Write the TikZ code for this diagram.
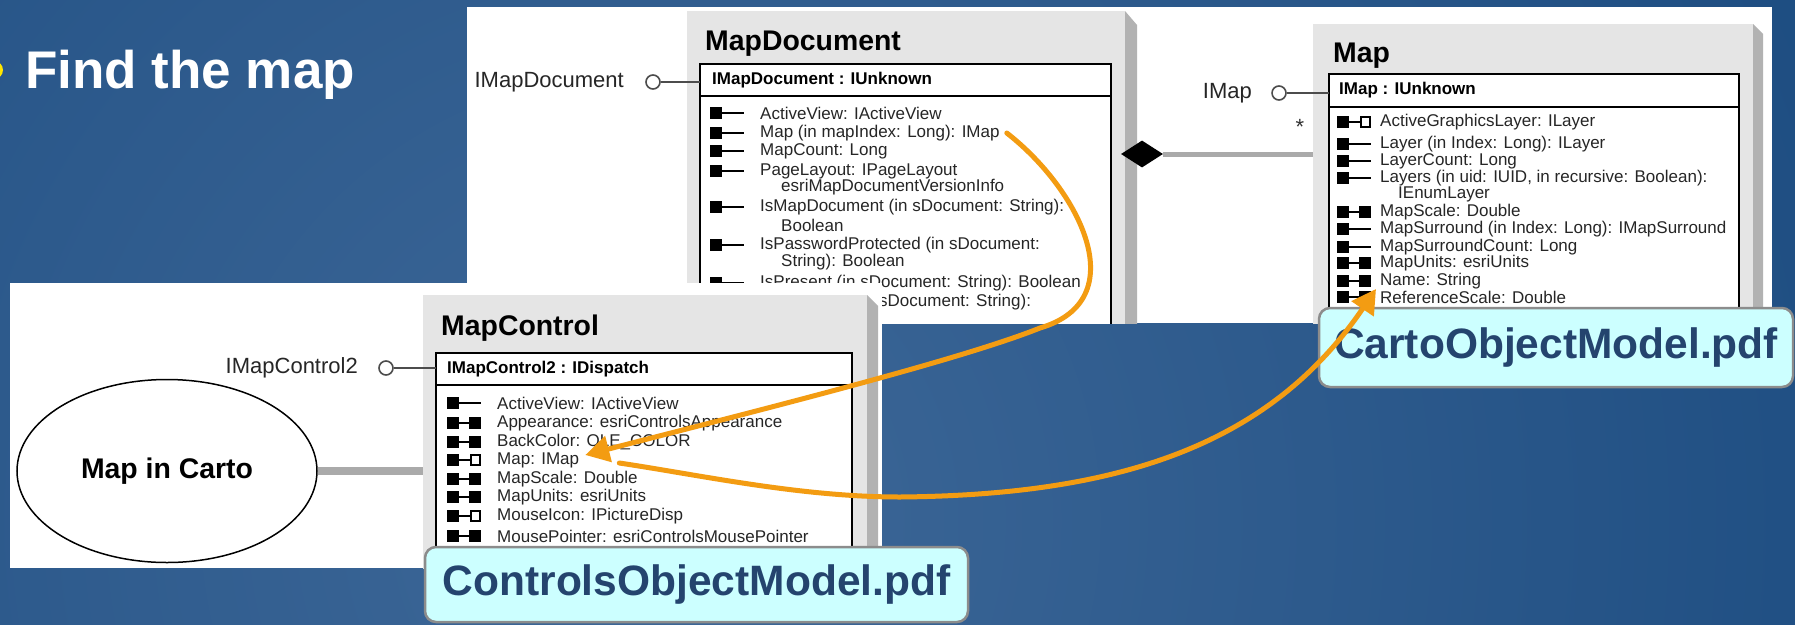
\documentclass[tikz,border=0pt]{standalone}
\usepackage{fontspec}
\setmainfont{Liberation Sans}
\usetikzlibrary{arrows.meta,positioning,shapes.geometric}
\definecolor{slideblue}{RGB}{16,66,120}
\definecolor{slidelight}{RGB}{62,104,152}
\definecolor{bulletyellow}{RGB}{255,230,0}
\definecolor{classgray}{RGB}{229,229,229}
\definecolor{shadowgray}{RGB}{178,178,178}
\definecolor{linkgray}{RGB}{170,170,170}
\definecolor{hintorange}{RGB}{243,156,18}
\definecolor{notefill}{RGB}{204,255,255}
\definecolor{notetext}{RGB}{36,68,110}
\definecolor{noteline}{RGB}{140,140,140}
\tikzset{
  member/.style={anchor=west, inner sep=0pt, text=black!85, font=\fontsize{17}{19}\selectfont},
  header/.style={anchor=west, inner sep=0pt, font=\bfseries\fontsize{17}{19}\selectfont},
  classname/.style={anchor=base west, inner sep=0pt, font=\bfseries\fontsize{28.4}{32}\selectfont},
  iface/.style={anchor=east, inner sep=0pt, text=black!85, font=\fontsize{22}{26}\selectfont},
  lolli/.style={circle, draw=black!70, line width=1.6pt, fill=white, minimum size=14pt, inner sep=0pt},
  ifline/.style={draw=black!70, line width=1.5pt},
  body/.style={draw=black, line width=1.8pt, fill=white},
  hdrbox/.style={draw=black, line width=1.8pt, fill=white, inner sep=0pt, outer sep=0pt, anchor=north west},
  assoc/.style={draw=linkgray, line width=5pt},
  note/.style={draw=noteline, line width=2.5pt, fill=notefill, rounded corners=11pt, inner sep=0pt, text=notetext, font=\bfseries\fontsize{42.5}{48}\selectfont},
  hint/.style={draw=hintorange, line width=5pt, line cap=round, -{Triangle[length=24pt,width=26pt]}},
  propget/.pic={\fill (0,-6) rectangle (12,6); \draw[line width=1.6pt] (12,0) -- (34,0);},
  propput/.pic={\fill (0,-6) rectangle (12,6); \draw[line width=1.6pt] (12,0) -- (22,0); \fill (22,-6) rectangle (34,6);},
  propref/.pic={\fill (0,-6) rectangle (12,6); \draw[line width=1.6pt] (12,0) -- (23,0); \draw[line width=1.6pt, fill=white] (23.8,-5.2) rectangle (33.2,5.2);}
}
\begin{document}
\begin{tikzpicture}[x=1pt, y=-1pt]
  \useasboundingbox (0,0) rectangle (1795,624);
  \begin{scope}
    \clip (0,0) rectangle (1795,624);
    \shade[inner color=slidelight, outer color=slideblue] (-1150,-1280) rectangle (2450,2320);
  \end{scope}
  \node[circle, fill=bulletyellow, minimum size=18pt, inner sep=0pt] (dot) at (-6,70) {};
  \node[anchor=base west, inner sep=0pt, text=white, font=\bfseries\fontsize{53}{60}\selectfont] (title) at (25,88) {Find the map};

  \fill[white] (467,7) rectangle (1772,323);
  \begin{scope}
    \clip (467,7) rectangle (1772,323);
    \fill[classgray] (687,11) rectangle (1125,330);
    \fill[shadowgray] (1125,11) -- (1137,25) -- (1137,330) -- (1125,330) -- cycle;
    \draw[body] (700,64) rectangle (1111,340);
    \node[hdrbox, minimum width=411pt, minimum height=32pt] (mdHdr) at (700,64) {};
    \node[classname] (mdName) at (705,50) {MapDocument};
    \node[header] (mdHead) at (712,80) {IMapDocument : IUnknown};
    \foreach \k/\y/\t [count=\i] in {
      propget/113/{ActiveView: IActiveView},
      propget/133/{Map (in mapIndex: Long): IMap},
      propget/151/{MapCount: Long},
      propget/171/{PageLayout: IPageLayout},
      propget/207/{IsMapDocument (in sDocument: String):},
      propget/245/{IsPasswordProtected (in sDocument:},
      propget/283/{IsPresent (in sDocument: String): Boolean}}{
      \pic at (710,\y) {\k};
      \node[member] (md\i) at (760,\y) {\t};
    }
    \node[member] (mdMore1) at (781,187) {esriMapDocumentVersionInfo};
    \node[member] (mdMore2) at (781,225) {Boolean};
    \node[member] (mdMore3) at (781,262) {String): Boolean};
    \node[member] (mdMore4) at (879,302) {sDocument: String):};
    \node[iface] (mdLabel) at (624,82) {IMapDocument};
    \node[lolli] (mdIf) at (653,82) {};
    \draw[ifline] (mdIf) -- (mdIf -| mdHdr.west);

    \fill[classgray] (1313,24) rectangle (1753,330);
    \fill[shadowgray] (1753,24) -- (1763,34) -- (1763,330) -- (1753,330) -- cycle;
    \draw[body] (1329,74) rectangle (1739,340);
    \node[hdrbox, minimum width=410pt, minimum height=33pt] (mpHdr) at (1329,74) {};
    \node[classname] (mpName) at (1333,62) {Map};
    \node[header] (mpHead) at (1339,90) {IMap : IUnknown};
    \foreach \k/\y/\t [count=\i] in {
      propref/122/{ActiveGraphicsLayer: ILayer},
      propget/144/{Layer (in Index: Long): ILayer},
      propget/161/{LayerCount: Long},
      propget/178/{Layers (in uid: IUID, in recursive: Boolean):},
      propput/212/{MapScale: Double},
      propget/229/{MapSurround (in Index: Long): IMapSurround},
      propget/247/{MapSurroundCount: Long},
      propput/263/{MapUnits: esriUnits},
      propput/281/{Name: String},
      propput/297/{ReferenceScale: Double}}{
      \pic at (1337,\y) {\k};
      \node[member] (mp\i) at (1380,\y) {\t};
    }
    \node[member] (mpMore) at (1398,194) {IEnumLayer};
    \node[iface] (mpLabel) at (1252,93) {IMap};
    \node[lolli] (mpIf) at (1279,93) {};
    \draw[ifline] (mpIf) -- (mpIf -| mpHdr.west);

    \coordinate (mpEdge) at (1313,154);
    \node[diamond, aspect=1.6, fill=black, minimum width=42pt, minimum height=27pt, inner sep=0pt] (own) at (1142,154) {};
    \draw[assoc] (own.east) -- (mpEdge);
    \node[font=\fontsize{22}{24}\selectfont, text=black!80] (many) at (1300,127) {*};
  \end{scope}

  \fill[white] (10,283) rectangle (882,568);
  \begin{scope}
    \clip (10,283) rectangle (882,568);
    \fill[classgray] (423,295) rectangle (867,580);
    \fill[shadowgray] (867,295) -- (878,306) -- (878,580) -- (867,580) -- cycle;
    \draw[body] (436,353) rectangle (852,600);
    \node[hdrbox, minimum width=416pt, minimum height=32pt] (mcHdr) at (436,353) {};
    \node[classname] (mcName) at (441,335) {MapControl};
    \node[header] (mcHead) at (447,369) {IMapControl2 : IDispatch};
    \foreach \k/\y/\t [count=\i] in {
      propget/403/{ActiveView: IActiveView},
      propput/423/{Appearance: esriControlsAppearance},
      propput/442/{BackColor: OLE\_COLOR},
      propref/460/{Map: IMap},
      propput/479/{MapScale: Double},
      propput/497/{MapUnits: esriUnits},
      propref/516/{MouseIcon: IPictureDisp},
      propput/536/{MousePointer: esriControlsMousePointer}}{
      \pic at (447,\y) {\k};
      \node[member] (mc\i) at (497,\y) {\t};
    }
    \node[iface] (mcLabel) at (358,368) {IMapControl2};
    \node[lolli] (mcIf) at (386,368) {};
    \draw[ifline] (mcIf) -- (mcIf -| mcHdr.west);

    \node[ellipse, draw, line width=1.5pt, fill=white, minimum width=300pt, minimum height=183pt, inner sep=0pt, font=\bfseries\fontsize{28.4}{32}\selectfont] (carto) at (167,471) {Map in Carto};
    \coordinate (mcEdge) at (423,472);
    \draw[assoc, line width=8pt] (carto.east) -- (carto.east -| mcEdge);
  \end{scope}

  \node[note, minimum width=474pt, minimum height=79pt] (cartoPdf) at (1556,347.5) {CartoObjectModel.pdf};
  \node[note, minimum width=543pt, minimum height=75pt] (ctrlPdf) at (696.5,584.5) {ControlsObjectModel.pdf};

  \draw[hint] ([xshift=7pt]md2.east) .. controls (1080,190) and (1135,300) .. (1040,328)
    .. controls (960,360) and (760,410) .. ([xshift=6pt,yshift=5pt]mc4.east);
  \draw[hint] ([xshift=40pt,yshift=-3pt]mc4.east) .. controls (700,475) and (800,497) .. (900,497)
    .. controls (1120,495) and (1270,445) .. ([xshift=-4pt,yshift=-8pt]mp9.west);
\end{tikzpicture}
\end{document}
